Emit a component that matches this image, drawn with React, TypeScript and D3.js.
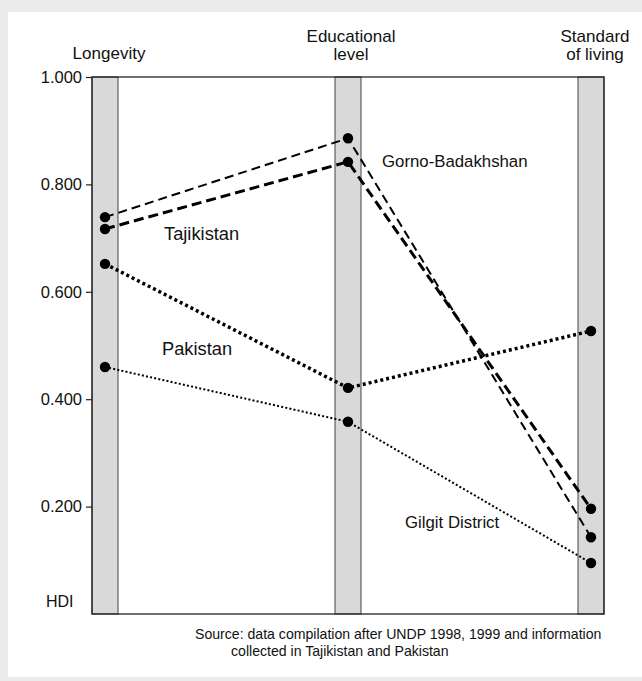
import React, { useEffect, useRef } from "react";
import * as d3 from "d3";

const dimensions = ["Longevity", "Educational level", "Standard of living"];
const dimensionLines = [["Longevity"], ["Educational", "level"], ["Standard", "of living"]];
const regions = ["Gorno-Badakhshan", "Tajikistan", "Pakistan", "Gilgit District"];
const gornoValues = [0.739, 0.886, 0.143];
const tajikValues = [0.717, 0.842, 0.196];
const pakistanValues = [0.652, 0.421, 0.527];
const gilgitValues = [0.46, 0.358, 0.095];
const yTicks = [0.2, 0.4, 0.6, 0.8, 1.0];
const sourceLines = [
  "Source: data compilation after UNDP 1998, 1999 and information",
  "collected in Tajikistan and Pakistan",
];

const App = () => {
  const svgRef = useRef<SVGSVGElement>(null);

  useEffect(() => {
    const width = 642;
    const height = 681;
    const margin = { top: 77, right: 38, bottom: 67, left: 92 };
    const font = "'Liberation Sans', Arial, Helvetica, sans-serif";

    const svg = d3.select(svgRef.current);
    svg.selectAll("*").remove();
    svg.attr("viewBox", [0, 0, width, height]).style("font-family", font);

    // background + white panel
    svg.append("rect").attr("width", width).attr("height", height).attr("fill", "#ebebeb");
    svg.append("rect").attr("x", 8).attr("y", 12).attr("width", width - 8).attr("height", 665).attr("fill", "#fff");

    const bandW = 26;
    const x = d3
      .scalePoint()
      .domain(dimensions)
      .range([margin.left + bandW / 2, width - margin.right - bandW / 2]);

    const y = d3
      .scaleLinear()
      .domain([0, 1])
      .range([height - margin.bottom, margin.top]);

    // grey columns
    svg
      .selectAll("rect.band")
      .data(dimensions)
      .join("rect")
      .attr("class", "band")
      .attr("x", (d) => x(d)! - bandW / 2)
      .attr("y", y(1))
      .attr("width", bandW)
      .attr("height", y(0) - y(1))
      .attr("fill", "#d9d9d9")
      .attr("stroke", "#444")
      .attr("stroke-width", 1);

    // frame
    svg
      .append("rect")
      .attr("x", margin.left)
      .attr("y", y(1))
      .attr("width", width - margin.right - margin.left)
      .attr("height", y(0) - y(1))
      .attr("fill", "none")
      .attr("stroke", "#222")
      .attr("stroke-width", 1.3);

    // y axis
    const axis = svg
      .append("g")
      .attr("transform", `translate(${margin.left},0)`)
      .call(
        d3
          .axisLeft(y)
          .tickValues(yTicks)
          .tickSize(6)
          .tickPadding(4)
          .tickFormat(d3.format(".3f"))
      );
    axis.select(".domain").remove();
    axis.selectAll("line").attr("stroke", "#222").attr("stroke-width", 1.2);
    axis
      .selectAll("text")
      .attr("fill", "#111")
      .style("font-size", "16.5px")
      .style("font-family", font);

    svg
      .append("text")
      .attr("x", 46)
      .attr("y", 607)
      .attr("fill", "#111")
      .style("font-size", "16px")
      .text("HDI");

    // column headers
    dimensionLines.forEach((lines, i) => {
      const cx = x(dimensions[i])! + (i === 1 ? 3 : 4);
      const baseY = lines.length === 1 ? 59 : 42;
      lines.forEach((t, j) => {
        svg
          .append("text")
          .attr("x", cx)
          .attr("y", baseY + j * 18)
          .attr("text-anchor", "middle")
          .attr("fill", "#111")
          .style("font-size", "17px")
          .text(t);
      });
    });

    const series = [
      { values: gornoValues, width: 2, dash: "9,5" },
      { values: tajikValues, width: 3, dash: "10,5" },
      { values: pakistanValues, width: 3.5, dash: "3,3" },
      { values: gilgitValues, width: 2, dash: "2,2.2" },
    ];

    const line = d3
      .line<number>()
      .x((_, i) => x(dimensions[i])!)
      .y((d) => y(d));

    series.forEach((s) => {
      svg
        .append("path")
        .attr("d", line(s.values))
        .attr("fill", "none")
        .attr("stroke", "#000")
        .attr("stroke-width", s.width)
        .attr("stroke-dasharray", s.dash);
      svg
        .selectAll(null)
        .data(s.values)
        .join("circle")
        .attr("cx", (_, i) => x(dimensions[i])!)
        .attr("cy", (d) => y(d))
        .attr("r", 5.2)
        .attr("fill", "#000");
    });

    // series labels
    const labelPos = [
      { x: 382, y: 167, size: 16.8 },
      { x: 164, y: 240, size: 18.3 },
      { x: 162, y: 355, size: 18.3 },
      { x: 405, y: 528, size: 16.8 },
    ];
    regions.forEach((r, i) => {
      svg
        .append("text")
        .attr("x", labelPos[i].x)
        .attr("y", labelPos[i].y)
        .attr("fill", "#111")
        .style("font-size", `${labelPos[i].size}px`)
        .text(r);
    });

    // source note
    sourceLines.forEach((t, i) => {
      svg
        .append("text")
        .attr("x", i === 0 ? 195 : 231)
        .attr("y", 639 + i * 17)
        .attr("fill", "#111")
        .style("font-size", "14.1px")
        .text(t);
    });
  }, []);

  return (
    <div style={{ position: "absolute", left: 0, top: 0 }}>
      <svg ref={svgRef} width={642} height={681} style={{ display: "block" }} />
    </div>
  );
};

export default App;
